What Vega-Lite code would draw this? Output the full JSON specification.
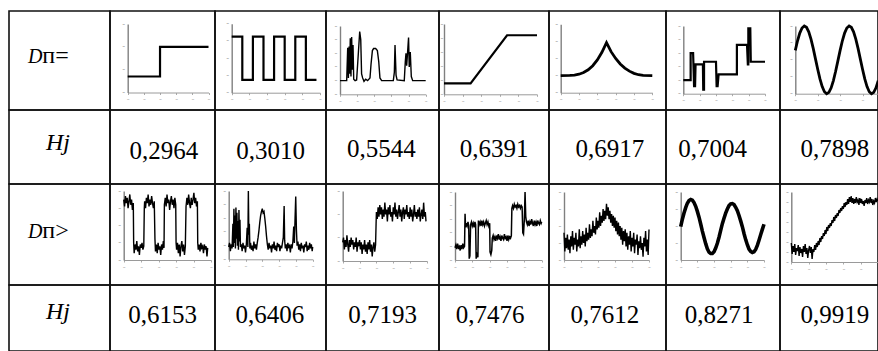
{
"$schema": "https://vega.github.io/schema/vega-lite/v6.json",
"padding": {"left": 8, "top": 10, "right": 0, "bottom": 0},
"background": "white",
"spacing": 0,
"bounds": "flush",
"columns": 8,
"config": {
  "font": "Liberation Serif",
  "view": {"stroke": "#111", "strokeWidth": 1.6},
  "concat": {"spacing": 0},
  "text": {"font": "Liberation Serif"},
  "axisX": {"grid": false, "domainColor": "#9a9a9a", "domainWidth": 1, "tickColor": "#aaa", "tickSize": 2, "labelExpr": "'-'", "labelFont": "DejaVu Sans", "labelFontSize": 8, "labelColor": "#bbb", "labelPadding": 1, "labelAngle": 0, "labelFlush": false, "labelOverlap": false, "labelBaseline": "top"},
  "axisY": {"grid": false, "domainColor": "#808080", "domainWidth": 1.4, "ticks": false, "labelExpr": "'-'", "labelFont": "DejaVu Sans", "labelFontSize": 8, "labelColor": "#aaa", "labelPadding": 3, "labelFlush": false, "labelOverlap": false}
},
"datasets": {
  "r1a": [{"x":0,"y":0.7},{"x":2,"y":0.7},{"x":2.001,"y":2},{"x":5,"y":2}],
  "r1b": [{"x":0,"y":3.25},{"x":0.6,"y":3.25},{"x":0.601,"y":0.74},{"x":1.2,"y":0.74},{"x":1.201,"y":3.25},{"x":1.8,"y":3.25},{"x":1.801,"y":0.74},{"x":2.4,"y":0.74},{"x":2.401,"y":3.25},{"x":3.0,"y":3.25},{"x":3.001,"y":0.74},{"x":3.6,"y":0.74},{"x":3.601,"y":3.25},{"x":4.2,"y":3.25},{"x":4.201,"y":0.74},{"x":4.8,"y":0.74}],
  "r1c": [{"x":0,"y":1},{"x":0.39,"y":1},{"x":0.45,"y":3.4},{"x":0.49,"y":1.2},{"x":0.53,"y":3.5},{"x":0.56,"y":1.5},{"x":0.6,"y":4.1},{"x":0.64,"y":1.3},{"x":0.68,"y":4.2},{"x":0.72,"y":1.8},{"x":0.76,"y":3.6},{"x":0.8,"y":1.1},{"x":0.88,"y":1},{"x":0.97,"y":1.05},{"x":1.07,"y":3.0},{"x":1.15,"y":4.6},{"x":1.21,"y":4.0},{"x":1.26,"y":1.5},{"x":1.32,"y":1.2},{"x":1.4,"y":0.95},{"x":1.5,"y":1.1},{"x":1.61,"y":1},{"x":1.75,"y":1.2},{"x":1.81,"y":2.2},{"x":1.89,"y":3.2},{"x":1.96,"y":3.35},{"x":2.08,"y":3.35},{"x":2.18,"y":3.2},{"x":2.26,"y":2.4},{"x":2.33,"y":1.2},{"x":2.43,"y":1},{"x":3.11,"y":1},{"x":3.17,"y":1.6},{"x":3.21,"y":3.6},{"x":3.27,"y":1.4},{"x":3.33,"y":1.05},{"x":3.75,"y":1},{"x":3.81,"y":2.4},{"x":3.85,"y":3.0},{"x":3.89,"y":2.1},{"x":3.95,"y":3.2},{"x":4.0,"y":4.15},{"x":4.04,"y":2.0},{"x":4.1,"y":3.1},{"x":4.16,"y":1.3},{"x":4.24,"y":1},{"x":5,"y":1}],
  "r1d": [{"x":0,"y":0.78},{"x":1.43,"y":0.78},{"x":3.39,"y":4.2},{"x":5,"y":4.2}],
  "r1e": [{"x":0,"y":1.0},{"x":0.5,"y":1.01},{"x":0.75,"y":1.03},{"x":1.0,"y":1.08},{"x":1.25,"y":1.18},{"x":1.5,"y":1.34},{"x":1.75,"y":1.58},{"x":2.0,"y":1.92},{"x":2.25,"y":2.36},{"x":2.5,"y":2.93},{"x":2.75,"y":2.4},{"x":3.0,"y":2.0},{"x":3.25,"y":1.68},{"x":3.5,"y":1.44},{"x":3.75,"y":1.26},{"x":4.0,"y":1.13},{"x":4.25,"y":1.05},{"x":4.5,"y":1.01},{"x":5.0,"y":1.0}],
  "r1f": [{"x":0,"y":1.0},{"x":0.449,"y":1.0},{"x":0.45,"y":3.0},{"x":0.6,"y":3.0},{"x":0.66,"y":0.55},{"x":0.72,"y":0.55},{"x":0.75,"y":2.17},{"x":1.2,"y":2.17},{"x":1.22,"y":0.3},{"x":1.269,"y":0.3},{"x":1.27,"y":2.36},{"x":2.0,"y":2.36},{"x":2.04,"y":0.55},{"x":2.1,"y":0.55},{"x":2.16,"y":1.43},{"x":3.279,"y":1.43},{"x":3.28,"y":3.6},{"x":3.9,"y":3.6},{"x":3.95,"y":2.17},{"x":3.979,"y":2.17},{"x":3.98,"y":4.83},{"x":4.1,"y":4.83},{"x":4.13,"y":2.36},{"x":5.0,"y":2.36}],
  "r1g": [{"x":0,"y":0.28},{"x":0.1,"y":0.563},{"x":0.2,"y":0.791},{"x":0.3,"y":0.941},{"x":0.4,"y":1.0},{"x":0.5,"y":0.96},{"x":0.6,"y":0.827},{"x":0.7,"y":0.612},{"x":0.8,"y":0.338},{"x":0.9,"y":0.03},{"x":1.0,"y":-0.28},{"x":1.1,"y":-0.563},{"x":1.2,"y":-0.791},{"x":1.3,"y":-0.941},{"x":1.4,"y":-1.0},{"x":1.5,"y":-0.96},{"x":1.6,"y":-0.827},{"x":1.7,"y":-0.612},{"x":1.8,"y":-0.338},{"x":1.9,"y":-0.03},{"x":2.0,"y":0.28},{"x":2.1,"y":0.563},{"x":2.2,"y":0.791},{"x":2.3,"y":0.941},{"x":2.4,"y":1.0},{"x":2.5,"y":0.96},{"x":2.6,"y":0.827},{"x":2.7,"y":0.612},{"x":2.8,"y":0.338},{"x":2.9,"y":0.03},{"x":3.0,"y":-0.28},{"x":3.1,"y":-0.563},{"x":3.2,"y":-0.791},{"x":3.3,"y":-0.941},{"x":3.4,"y":-1.0},{"x":3.5,"y":-0.96},{"x":3.6,"y":-0.827},{"x":3.7,"y":-0.612}],
  "r3a": [{"x":0,"y":3.5},{"x":0.05,"y":3.1},{"x":0.1,"y":3.7},{"x":0.15,"y":3.3},{"x":0.2,"y":3.6},{"x":0.25,"y":3.0},{"x":0.3,"y":3.4},{"x":0.35,"y":3.8},{"x":0.4,"y":3.2},{"x":0.45,"y":3.5},{"x":0.5,"y":2.9},{"x":0.55,"y":3.3},{"x":0.57,"y":1.0},{"x":0.6,"y":0.4},{"x":0.65,"y":0.9},{"x":0.7,"y":0.6},{"x":0.75,"y":1.1},{"x":0.8,"y":0.5},{"x":0.85,"y":0.8},{"x":0.9,"y":0.3},{"x":0.95,"y":0.9},{"x":1.0,"y":0.7},{"x":1.05,"y":1.0},{"x":1.1,"y":0.6},{"x":1.15,"y":0.8},{"x":1.18,"y":3.0},{"x":1.2,"y":3.4},{"x":1.25,"y":3.0},{"x":1.3,"y":3.6},{"x":1.35,"y":3.3},{"x":1.4,"y":3.8},{"x":1.45,"y":3.1},{"x":1.5,"y":3.5},{"x":1.55,"y":3.2},{"x":1.6,"y":3.7},{"x":1.65,"y":3.3},{"x":1.7,"y":3.0},{"x":1.75,"y":3.4},{"x":1.79,"y":1.2},{"x":1.82,"y":0.5},{"x":1.87,"y":0.9},{"x":1.92,"y":0.4},{"x":1.97,"y":1.0},{"x":2.02,"y":0.6},{"x":2.07,"y":0.8},{"x":2.12,"y":0.3},{"x":2.17,"y":0.9},{"x":2.22,"y":0.6},{"x":2.27,"y":1.1},{"x":2.31,"y":0.7},{"x":2.33,"y":3.2},{"x":2.38,"y":3.6},{"x":2.43,"y":3.1},{"x":2.48,"y":3.8},{"x":2.53,"y":3.3},{"x":2.58,"y":3.5},{"x":2.63,"y":2.9},{"x":2.68,"y":3.4},{"x":2.73,"y":3.7},{"x":2.78,"y":3.2},{"x":2.83,"y":3.5},{"x":2.88,"y":3.0},{"x":2.93,"y":3.6},{"x":2.98,"y":3.2},{"x":3.0,"y":1.0},{"x":3.03,"y":0.6},{"x":3.08,"y":1.0},{"x":3.13,"y":0.4},{"x":3.18,"y":0.9},{"x":3.23,"y":0.2},{"x":3.28,"y":0.8},{"x":3.33,"y":1.1},{"x":3.38,"y":0.5},{"x":3.43,"y":0.9},{"x":3.48,"y":0.3},{"x":3.53,"y":0.8},{"x":3.57,"y":3.1},{"x":3.62,"y":3.6},{"x":3.67,"y":3.2},{"x":3.72,"y":3.8},{"x":3.77,"y":3.3},{"x":3.82,"y":3.0},{"x":3.87,"y":3.6},{"x":3.92,"y":3.2},{"x":3.97,"y":3.5},{"x":4.02,"y":3.9},{"x":4.07,"y":3.3},{"x":4.12,"y":3.6},{"x":4.17,"y":3.1},{"x":4.22,"y":3.4},{"x":4.24,"y":1.0},{"x":4.27,"y":0.6},{"x":4.32,"y":0.9},{"x":4.37,"y":0.5},{"x":4.42,"y":1.0},{"x":4.47,"y":0.7},{"x":4.52,"y":0.8},{"x":4.57,"y":0.4},{"x":4.62,"y":0.9},{"x":4.67,"y":0.6},{"x":4.72,"y":0.8},{"x":4.77,"y":0.2},{"x":4.81,"y":0.7}],
  "r3b": [{"x":0,"y":0.9},{"x":0.05,"y":1.2},{"x":0.1,"y":0.6},{"x":0.15,"y":1.1},{"x":0.2,"y":0.8},{"x":0.25,"y":2.6},{"x":0.28,"y":0.9},{"x":0.31,"y":3.7},{"x":0.34,"y":1.2},{"x":0.37,"y":3.2},{"x":0.4,"y":0.8},{"x":0.43,"y":3.8},{"x":0.46,"y":1.5},{"x":0.49,"y":3.4},{"x":0.52,"y":1.0},{"x":0.55,"y":2.8},{"x":0.58,"y":0.7},{"x":0.61,"y":3.6},{"x":0.64,"y":1.3},{"x":0.67,"y":2.9},{"x":0.7,"y":0.9},{"x":0.75,"y":1.1},{"x":0.8,"y":0.6},{"x":0.85,"y":1.2},{"x":0.9,"y":0.8},{"x":0.95,"y":1.0},{"x":1.0,"y":0.5},{"x":1.05,"y":1.1},{"x":1.1,"y":2.3},{"x":1.14,"y":0.9},{"x":1.17,"y":5.0},{"x":1.2,"y":1.8},{"x":1.23,"y":2.6},{"x":1.26,"y":0.8},{"x":1.3,"y":1.2},{"x":1.35,"y":0.7},{"x":1.4,"y":1.0},{"x":1.45,"y":0.6},{"x":1.5,"y":1.3},{"x":1.55,"y":0.8},{"x":1.6,"y":1.1},{"x":1.65,"y":0.7},{"x":1.7,"y":1.2},{"x":1.75,"y":1.6},{"x":1.8,"y":2.1},{"x":1.85,"y":2.7},{"x":1.9,"y":3.2},{"x":1.95,"y":3.5},{"x":2.0,"y":3.7},{"x":2.05,"y":3.4},{"x":2.1,"y":3.5},{"x":2.15,"y":3.0},{"x":2.2,"y":2.4},{"x":2.25,"y":1.7},{"x":2.3,"y":1.1},{"x":2.35,"y":0.7},{"x":2.4,"y":1.2},{"x":2.45,"y":0.8},{"x":2.5,"y":1.0},{"x":2.55,"y":0.5},{"x":2.6,"y":1.1},{"x":2.65,"y":0.8},{"x":2.7,"y":1.3},{"x":2.75,"y":0.7},{"x":2.8,"y":1.0},{"x":2.85,"y":0.6},{"x":2.9,"y":1.2},{"x":2.95,"y":0.9},{"x":3.0,"y":1.1},{"x":3.05,"y":0.6},{"x":3.1,"y":1.0},{"x":3.15,"y":0.8},{"x":3.2,"y":1.2},{"x":3.25,"y":1.6},{"x":3.3,"y":3.9},{"x":3.33,"y":1.4},{"x":3.37,"y":0.8},{"x":3.42,"y":1.1},{"x":3.47,"y":0.6},{"x":3.52,"y":1.2},{"x":3.57,"y":0.9},{"x":3.62,"y":1.0},{"x":3.67,"y":0.5},{"x":3.72,"y":1.1},{"x":3.77,"y":0.8},{"x":3.82,"y":1.3},{"x":3.87,"y":2.4},{"x":3.91,"y":1.2},{"x":3.95,"y":3.0},{"x":3.99,"y":4.6},{"x":4.03,"y":2.2},{"x":4.07,"y":1.0},{"x":4.12,"y":1.3},{"x":4.17,"y":0.7},{"x":4.22,"y":1.1},{"x":4.27,"y":0.6},{"x":4.32,"y":1.2},{"x":4.37,"y":0.8},{"x":4.42,"y":1.0},{"x":4.47,"y":0.5},{"x":4.52,"y":1.1},{"x":4.57,"y":0.9},{"x":4.62,"y":1.3},{"x":4.67,"y":0.6},{"x":4.72,"y":1.0},{"x":4.77,"y":0.7},{"x":4.82,"y":1.2},{"x":4.87,"y":0.8},{"x":4.92,"y":1.1},{"x":4.97,"y":0.6},{"x":5.0,"y":0.9}],
  "r3c": [{"x":0,"y":0.8},{"x":0.05,"y":1.0},{"x":0.1,"y":0.5},{"x":0.15,"y":0.9},{"x":0.2,"y":0.6},{"x":0.25,"y":1.1},{"x":0.3,"y":0.7},{"x":0.35,"y":0.4},{"x":0.4,"y":0.9},{"x":0.45,"y":0.6},{"x":0.5,"y":1.0},{"x":0.55,"y":0.7},{"x":0.6,"y":0.9},{"x":0.65,"y":0.5},{"x":0.7,"y":0.8},{"x":0.75,"y":0.6},{"x":0.8,"y":1.0},{"x":0.85,"y":0.4},{"x":0.9,"y":0.8},{"x":0.95,"y":0.7},{"x":1.0,"y":0.9},{"x":1.05,"y":0.5},{"x":1.1,"y":0.8},{"x":1.15,"y":0.3},{"x":1.2,"y":0.7},{"x":1.25,"y":0.5},{"x":1.3,"y":0.9},{"x":1.35,"y":0.4},{"x":1.4,"y":0.7},{"x":1.45,"y":0.3},{"x":1.5,"y":0.8},{"x":1.55,"y":0.5},{"x":1.6,"y":0.9},{"x":1.65,"y":0.4},{"x":1.7,"y":0.7},{"x":1.75,"y":0.2},{"x":1.8,"y":0.6},{"x":1.85,"y":0.8},{"x":1.9,"y":0.4},{"x":1.95,"y":0.7},{"x":1.98,"y":1.6},{"x":2.0,"y":2.1},{"x":2.05,"y":1.8},{"x":2.1,"y":2.3},{"x":2.15,"y":1.9},{"x":2.2,"y":2.4},{"x":2.25,"y":2.0},{"x":2.3,"y":2.3},{"x":2.35,"y":1.8},{"x":2.4,"y":2.2},{"x":2.45,"y":1.9},{"x":2.5,"y":2.5},{"x":2.55,"y":2.0},{"x":2.6,"y":2.2},{"x":2.65,"y":1.7},{"x":2.7,"y":2.3},{"x":2.75,"y":2.0},{"x":2.8,"y":2.4},{"x":2.85,"y":1.9},{"x":2.9,"y":2.1},{"x":2.95,"y":1.7},{"x":3.0,"y":2.3},{"x":3.05,"y":2.0},{"x":3.1,"y":2.5},{"x":3.15,"y":1.9},{"x":3.2,"y":2.2},{"x":3.25,"y":1.8},{"x":3.3,"y":2.1},{"x":3.35,"y":2.4},{"x":3.4,"y":1.9},{"x":3.45,"y":2.2},{"x":3.5,"y":1.7},{"x":3.55,"y":2.1},{"x":3.6,"y":2.3},{"x":3.65,"y":1.8},{"x":3.7,"y":2.2},{"x":3.75,"y":2.0},{"x":3.8,"y":2.4},{"x":3.85,"y":1.9},{"x":3.9,"y":2.1},{"x":3.95,"y":1.8},{"x":4.0,"y":2.3},{"x":4.05,"y":1.9},{"x":4.1,"y":2.2},{"x":4.15,"y":1.7},{"x":4.2,"y":2.0},{"x":4.25,"y":2.4},{"x":4.3,"y":1.9},{"x":4.35,"y":2.1},{"x":4.4,"y":1.8},{"x":4.45,"y":2.2},{"x":4.5,"y":1.9},{"x":4.55,"y":2.3},{"x":4.6,"y":1.7},{"x":4.65,"y":2.0},{"x":4.7,"y":2.2},{"x":4.75,"y":1.8},{"x":4.8,"y":2.5},{"x":4.85,"y":1.9},{"x":4.9,"y":2.1},{"x":4.94,"y":1.7}],
  "r3d": [{"x":0,"y":0.9},{"x":0.05,"y":1.1},{"x":0.1,"y":0.8},{"x":0.15,"y":1.2},{"x":0.2,"y":0.9},{"x":0.25,"y":1.0},{"x":0.3,"y":0.7},{"x":0.35,"y":1.1},{"x":0.4,"y":0.8},{"x":0.45,"y":1.2},{"x":0.5,"y":0.9},{"x":0.55,"y":1.0},{"x":0.58,"y":3.4},{"x":0.61,"y":2.4},{"x":0.65,"y":2.7},{"x":0.7,"y":2.5},{"x":0.75,"y":2.8},{"x":0.79,"y":2.5},{"x":0.82,"y":0.1},{"x":0.86,"y":0.3},{"x":0.9,"y":2.6},{"x":0.95,"y":2.8},{"x":1.0,"y":2.5},{"x":1.05,"y":2.7},{"x":1.1,"y":2.4},{"x":1.15,"y":2.8},{"x":1.19,"y":2.6},{"x":1.22,"y":0.1},{"x":1.27,"y":0.4},{"x":1.32,"y":0.2},{"x":1.35,"y":2.9},{"x":1.4,"y":2.6},{"x":1.45,"y":2.8},{"x":1.5,"y":2.5},{"x":1.55,"y":2.9},{"x":1.6,"y":2.6},{"x":1.65,"y":2.8},{"x":1.7,"y":2.5},{"x":1.75,"y":2.7},{"x":1.8,"y":2.9},{"x":1.85,"y":2.6},{"x":1.9,"y":2.8},{"x":1.95,"y":2.5},{"x":2.0,"y":2.7},{"x":2.02,"y":0.6},{"x":2.07,"y":0.4},{"x":2.12,"y":0.7},{"x":2.15,"y":1.6},{"x":2.2,"y":1.8},{"x":2.25,"y":1.5},{"x":2.3,"y":1.7},{"x":2.35,"y":1.4},{"x":2.4,"y":1.8},{"x":2.45,"y":1.6},{"x":2.5,"y":1.9},{"x":2.55,"y":1.5},{"x":2.6,"y":1.7},{"x":2.65,"y":1.4},{"x":2.7,"y":1.8},{"x":2.75,"y":1.6},{"x":2.8,"y":1.5},{"x":2.85,"y":1.9},{"x":2.9,"y":1.6},{"x":2.95,"y":1.7},{"x":3.0,"y":1.4},{"x":3.05,"y":1.8},{"x":3.1,"y":1.5},{"x":3.15,"y":1.7},{"x":3.2,"y":1.6},{"x":3.25,"y":1.8},{"x":3.28,"y":3.8},{"x":3.32,"y":4.0},{"x":3.37,"y":3.8},{"x":3.42,"y":4.1},{"x":3.47,"y":3.9},{"x":3.52,"y":4.0},{"x":3.57,"y":3.8},{"x":3.62,"y":4.1},{"x":3.67,"y":3.9},{"x":3.72,"y":4.0},{"x":3.77,"y":3.8},{"x":3.82,"y":4.0},{"x":3.87,"y":3.9},{"x":3.91,"y":2.0},{"x":3.95,"y":1.9},{"x":4.0,"y":3.0},{"x":4.04,"y":5.0},{"x":4.08,"y":3.2},{"x":4.12,"y":2.8},{"x":4.17,"y":2.6},{"x":4.22,"y":2.9},{"x":4.27,"y":2.5},{"x":4.32,"y":2.8},{"x":4.37,"y":2.6},{"x":4.42,"y":3.0},{"x":4.47,"y":2.7},{"x":4.52,"y":2.5},{"x":4.57,"y":2.9},{"x":4.62,"y":2.6},{"x":4.67,"y":2.8},{"x":4.72,"y":2.5},{"x":4.77,"y":2.9},{"x":4.82,"y":2.7},{"x":4.87,"y":2.6},{"x":4.92,"y":2.9},{"x":4.97,"y":2.7},{"x":5.0,"y":2.8}],
  "r3e": [{"x":0,"y":1.6},{"x":0.05,"y":0.5},{"x":0.1,"y":1.3},{"x":0.15,"y":0.7},{"x":0.2,"y":1.5},{"x":0.25,"y":0.6},{"x":0.3,"y":1.2},{"x":0.35,"y":0.4},{"x":0.4,"y":1.4},{"x":0.45,"y":0.8},{"x":0.5,"y":1.7},{"x":0.55,"y":0.6},{"x":0.6,"y":1.3},{"x":0.65,"y":0.9},{"x":0.7,"y":1.6},{"x":0.75,"y":0.5},{"x":0.8,"y":1.2},{"x":0.85,"y":0.8},{"x":0.9,"y":1.8},{"x":0.95,"y":0.7},{"x":1.0,"y":1.4},{"x":1.05,"y":0.9},{"x":1.1,"y":1.7},{"x":1.15,"y":1.0},{"x":1.2,"y":1.5},{"x":1.25,"y":0.8},{"x":1.3,"y":1.9},{"x":1.35,"y":1.1},{"x":1.4,"y":1.6},{"x":1.45,"y":1.2},{"x":1.5,"y":2.1},{"x":1.55,"y":1.3},{"x":1.6,"y":1.8},{"x":1.65,"y":1.4},{"x":1.7,"y":2.3},{"x":1.75,"y":1.6},{"x":1.8,"y":2.0},{"x":1.85,"y":1.5},{"x":1.9,"y":2.5},{"x":1.95,"y":1.8},{"x":2.0,"y":2.3},{"x":2.05,"y":1.9},{"x":2.1,"y":2.8},{"x":2.15,"y":2.0},{"x":2.2,"y":2.6},{"x":2.25,"y":2.2},{"x":2.3,"y":3.0},{"x":2.35,"y":2.3},{"x":2.4,"y":2.9},{"x":2.45,"y":2.4},{"x":2.5,"y":3.3},{"x":2.55,"y":2.6},{"x":2.6,"y":3.1},{"x":2.65,"y":2.4},{"x":2.7,"y":2.9},{"x":2.75,"y":2.2},{"x":2.8,"y":2.7},{"x":2.85,"y":2.0},{"x":2.9,"y":2.6},{"x":2.95,"y":1.9},{"x":3.0,"y":2.5},{"x":3.05,"y":1.7},{"x":3.1,"y":2.3},{"x":3.15,"y":1.5},{"x":3.2,"y":2.2},{"x":3.25,"y":1.4},{"x":3.3,"y":2.0},{"x":3.35,"y":1.2},{"x":3.4,"y":1.9},{"x":3.45,"y":0.9},{"x":3.5,"y":1.7},{"x":3.55,"y":1.1},{"x":3.6,"y":1.8},{"x":3.65,"y":0.8},{"x":3.7,"y":1.6},{"x":3.75,"y":0.6},{"x":3.8,"y":1.4},{"x":3.85,"y":0.9},{"x":3.9,"y":1.7},{"x":3.95,"y":0.5},{"x":4.0,"y":1.3},{"x":4.05,"y":0.8},{"x":4.1,"y":1.6},{"x":4.15,"y":0.4},{"x":4.2,"y":1.2},{"x":4.25,"y":0.9},{"x":4.3,"y":1.5},{"x":4.35,"y":0.3},{"x":4.4,"y":1.1},{"x":4.45,"y":0.7},{"x":4.5,"y":1.4},{"x":4.55,"y":0.6},{"x":4.6,"y":1.0},{"x":4.65,"y":0.2},{"x":4.7,"y":1.3},{"x":4.75,"y":0.8},{"x":4.8,"y":1.7},{"x":4.85,"y":0.5},{"x":4.9,"y":1.2},{"x":4.95,"y":0.3},{"x":5.0,"y":1.8}],
  "r3f": [{"x":0,"y":-0.02},{"x":0.1,"y":0.2},{"x":0.2,"y":0.38},{"x":0.3,"y":0.54},{"x":0.4,"y":0.67},{"x":0.5,"y":0.75},{"x":0.6,"y":0.78},{"x":0.7,"y":0.76},{"x":0.8,"y":0.69},{"x":0.9,"y":0.58},{"x":1.0,"y":0.43},{"x":1.1,"y":0.26},{"x":1.2,"y":0.06},{"x":1.3,"y":-0.15},{"x":1.4,"y":-0.34},{"x":1.5,"y":-0.52},{"x":1.6,"y":-0.67},{"x":1.7,"y":-0.77},{"x":1.8,"y":-0.81},{"x":1.9,"y":-0.81},{"x":2.0,"y":-0.76},{"x":2.1,"y":-0.65},{"x":2.2,"y":-0.51},{"x":2.3,"y":-0.33},{"x":2.4,"y":-0.13},{"x":2.5,"y":0.07},{"x":2.6,"y":0.23},{"x":2.7,"y":0.38},{"x":2.8,"y":0.5},{"x":2.9,"y":0.6},{"x":3.0,"y":0.65},{"x":3.1,"y":0.66},{"x":3.2,"y":0.63},{"x":3.3,"y":0.55},{"x":3.4,"y":0.45},{"x":3.5,"y":0.31},{"x":3.6,"y":0.15},{"x":3.7,"y":-0.02},{"x":3.8,"y":-0.22},{"x":3.9,"y":-0.4},{"x":4.0,"y":-0.55},{"x":4.1,"y":-0.68},{"x":4.2,"y":-0.75},{"x":4.3,"y":-0.78},{"x":4.4,"y":-0.76},{"x":4.5,"y":-0.69},{"x":4.6,"y":-0.57},{"x":4.7,"y":-0.42},{"x":4.8,"y":-0.26},{"x":4.9,"y":-0.1},{"x":5.0,"y":0.05}],
  "r3g": [{"x":0,"y":1.9},{"x":0.05,"y":0.8},{"x":0.1,"y":1.6},{"x":0.15,"y":1.0},{"x":0.2,"y":1.8},{"x":0.25,"y":0.7},{"x":0.3,"y":1.4},{"x":0.35,"y":1.1},{"x":0.4,"y":1.7},{"x":0.45,"y":0.6},{"x":0.5,"y":1.5},{"x":0.55,"y":0.9},{"x":0.6,"y":1.3},{"x":0.65,"y":0.5},{"x":0.7,"y":1.6},{"x":0.75,"y":1.0},{"x":0.8,"y":1.8},{"x":0.85,"y":0.8},{"x":0.9,"y":1.4},{"x":0.95,"y":0.4},{"x":1.0,"y":1.2},{"x":1.05,"y":1.6},{"x":1.1,"y":0.9},{"x":1.15,"y":1.5},{"x":1.2,"y":0.3},{"x":1.25,"y":1.3},{"x":1.3,"y":1.0},{"x":1.35,"y":1.7},{"x":1.4,"y":1.2},{"x":1.45,"y":1.9},{"x":1.5,"y":1.5},{"x":1.55,"y":2.1},{"x":1.6,"y":1.7},{"x":1.65,"y":2.4},{"x":1.7,"y":2.0},{"x":1.75,"y":2.6},{"x":1.8,"y":2.3},{"x":1.85,"y":2.9},{"x":1.9,"y":2.6},{"x":1.95,"y":3.2},{"x":2.0,"y":2.8},{"x":2.05,"y":3.5},{"x":2.1,"y":3.1},{"x":2.15,"y":3.7},{"x":2.2,"y":3.4},{"x":2.25,"y":3.9},{"x":2.3,"y":3.6},{"x":2.35,"y":4.2},{"x":2.4,"y":3.9},{"x":2.45,"y":4.5},{"x":2.5,"y":4.1},{"x":2.55,"y":4.7},{"x":2.6,"y":4.4},{"x":2.65,"y":4.9},{"x":2.7,"y":4.6},{"x":2.75,"y":5.2},{"x":2.8,"y":4.9},{"x":2.85,"y":5.4},{"x":2.9,"y":5.1},{"x":2.95,"y":5.6},{"x":3.0,"y":5.3},{"x":3.05,"y":5.9},{"x":3.1,"y":5.5},{"x":3.15,"y":6.0},{"x":3.2,"y":5.7},{"x":3.25,"y":6.3},{"x":3.3,"y":5.8},{"x":3.35,"y":6.5},{"x":3.4,"y":6.0},{"x":3.45,"y":6.6},{"x":3.5,"y":5.9},{"x":3.55,"y":6.4},{"x":3.6,"y":5.8},{"x":3.65,"y":6.3},{"x":3.7,"y":5.9},{"x":3.75,"y":6.5},{"x":3.8,"y":6.0},{"x":3.85,"y":6.2},{"x":3.9,"y":5.7},{"x":3.95,"y":6.4},{"x":4.0,"y":5.9},{"x":4.05,"y":6.3},{"x":4.1,"y":5.8},{"x":4.15,"y":6.1},{"x":4.2,"y":5.6},{"x":4.25,"y":6.2},{"x":4.3,"y":5.9},{"x":4.35,"y":6.4},{"x":4.4,"y":5.8},{"x":4.45,"y":6.2},{"x":4.5,"y":6.0},{"x":4.55,"y":6.5},{"x":4.6,"y":5.9},{"x":4.65,"y":6.3},{"x":4.7,"y":5.7},{"x":4.75,"y":6.1},{"x":4.8,"y":5.9},{"x":4.85,"y":6.4},{"x":4.9,"y":6.0},{"x":4.95,"y":6.3},{"x":5.0,"y":6.1}]
},
"concat": [
  {"width":101,"height":99,"data":{"values":[{"sym":"D","rel":"п="}]},"layer":[
    {"mark":{"type":"text","font":"Liberation Serif","fontSize":20,"fontStyle":"italic","align":"right","baseline":"alphabetic"},"encoding":{"x":{"datum":0.33,"type":"quantitative","scale":{"domain":[0,1]},"axis":null},"y":{"datum":0.478,"type":"quantitative","scale":{"domain":[0,1]},"axis":null},"text":{"field":"sym"}}},
    {"mark":{"type":"text","font":"Liberation Serif","fontSize":24,"align":"left","baseline":"alphabetic"},"encoding":{"x":{"datum":0.33,"type":"quantitative","scale":{"domain":[0,1]},"axis":null},"y":{"datum":0.478,"type":"quantitative","scale":{"domain":[0,1]},"axis":null},"text":{"field":"rel"}}}
  ]},
  {"width":105,"height":99,"data":{"name":"r1a"},"mark":{"type":"line","color":"#000","strokeWidth":2.2,"clip":true},"encoding":{"x":{"field":"x","type":"quantitative","scale":{"domain":[0,5],"range":[17.7,98.5],"nice":false,"zero":false},"axis":{"values":[0,1,2,3,4,5],"offset":-17.5,"title":null}},"y":{"field":"y","type":"quantitative","scale":{"domain":[0,3],"range":[81.5,13],"nice":false,"zero":false},"axis":{"values":[0,1,2,3],"offset":-17.7,"title":null}}}},
  {"width":111,"height":99,"data":{"name":"r1b"},"mark":{"type":"line","color":"#000","strokeWidth":2.2,"clip":true},"encoding":{"x":{"field":"x","type":"quantitative","scale":{"domain":[0,5],"range":[16.7,105],"nice":false,"zero":false},"axis":{"values":[0,1,2,3,4,5],"offset":-17.3,"title":null}},"y":{"field":"y","type":"quantitative","scale":{"domain":[0,4],"range":[81.7,12.7],"nice":false,"zero":false},"axis":{"values":[0,1,2,3,4],"offset":-16.7,"title":null}}}},
  {"width":113,"height":99,"data":{"name":"r1c"},"mark":{"type":"line","color":"#000","strokeWidth":1.4,"clip":true},"encoding":{"x":{"field":"x","type":"quantitative","scale":{"domain":[0,5],"range":[14,99.7],"nice":false,"zero":false},"axis":{"values":[0,1,2,3,4,5],"offset":-15.7,"title":null}},"y":{"field":"y","type":"quantitative","scale":{"domain":[0,5],"range":[83.3,15],"nice":false,"zero":false},"axis":{"values":[0,1,2,3,4,5],"offset":-14,"title":null}}}},
  {"width":110,"height":99,"data":{"name":"r1d"},"mark":{"type":"line","color":"#000","strokeWidth":2.2,"clip":true},"encoding":{"x":{"field":"x","type":"quantitative","scale":{"domain":[0,5],"range":[5,98],"nice":false,"zero":false},"axis":{"values":[0,1,2,3,4,5],"offset":-15.7,"title":null}},"y":{"field":"y","type":"quantitative","scale":{"domain":[0,5],"range":[83.3,13],"nice":false,"zero":false},"axis":{"values":[0,1,2,3,4,5],"offset":-5,"labelPadding":1,"title":null}}}},
  {"width":117,"height":99,"data":{"name":"r1e"},"mark":{"type":"line","color":"#000","strokeWidth":2.8,"clip":true},"encoding":{"x":{"field":"x","type":"quantitative","scale":{"domain":[0,5],"range":[11.7,103.3],"nice":false,"zero":false},"axis":{"values":[0,1,2,3,4,5],"offset":-17.3,"title":null}},"y":{"field":"y","type":"quantitative","scale":{"domain":[0,4],"range":[81.7,13.3],"nice":false,"zero":false},"axis":{"values":[0,1,2,3,4],"offset":-11.7,"title":null}}}},
  {"width":114,"height":99,"data":{"name":"r1f"},"mark":{"type":"line","color":"#000","strokeWidth":2.2,"clip":true},"encoding":{"x":{"field":"x","type":"quantitative","scale":{"domain":[0,5],"range":[17.3,99],"nice":false,"zero":false},"axis":{"values":[0,1,2,3,4,5],"offset":-16.3,"title":null}},"y":{"field":"y","type":"quantitative","scale":{"domain":[0,5],"range":[82.7,15],"nice":false,"zero":false},"axis":{"values":[0,1,2,3,4,5],"offset":-17.3,"title":null}}}},
  {"width":98,"height":99,"view":{"stroke":"#111","strokeWidth":1.6,"strokeDasharray":[98,99,197,0]},"data":{"name":"r1g"},"mark":{"type":"line","color":"#000","strokeWidth":2.8,"clip":true},"encoding":{"x":{"field":"x","type":"quantitative","scale":{"domain":[0,3.69],"range":[15.3,98],"nice":false,"zero":false},"axis":{"values":[0,1,2,3],"offset":-16.3,"title":null}},"y":{"field":"y","type":"quantitative","scale":{"domain":[-1,1],"range":[82.7,15],"nice":false,"zero":false},"axis":{"values":[-1,-0.5,0,0.5,1],"offset":-15.3,"title":null}}}},

  {"width":101,"height":74,"data":{"values":[{"hj":"Hj"}]},"mark":{"type":"text","font":"Liberation Serif","fontSize":24,"fontStyle":"italic","align":"center","baseline":"alphabetic"},"encoding":{"x":{"datum":0.485,"type":"quantitative","scale":{"domain":[0,1]},"axis":null},"y":{"datum":0.455,"type":"quantitative","scale":{"domain":[0,1]},"axis":null},"text":{"field":"hj"}}},
  {"width":105,"height":74,"data":{"values":[{"hj":"0,2964"}]},"mark":{"type":"text","font":"Liberation Serif","fontSize":25,"align":"center","baseline":"alphabetic"},"encoding":{"x":{"datum":0.514,"type":"quantitative","scale":{"domain":[0,1]},"axis":null},"y":{"datum":0.338,"type":"quantitative","scale":{"domain":[0,1]},"axis":null},"text":{"field":"hj"}}},
  {"width":111,"height":74,"data":{"values":[{"hj":"0,3010"}]},"mark":{"type":"text","font":"Liberation Serif","fontSize":25,"align":"center","baseline":"alphabetic"},"encoding":{"x":{"datum":0.5,"type":"quantitative","scale":{"domain":[0,1]},"axis":null},"y":{"datum":0.338,"type":"quantitative","scale":{"domain":[0,1]},"axis":null},"text":{"field":"hj"}}},
  {"width":113,"height":74,"data":{"values":[{"hj":"0,5544"}]},"mark":{"type":"text","font":"Liberation Serif","fontSize":25,"align":"center","baseline":"alphabetic"},"encoding":{"x":{"datum":0.49,"type":"quantitative","scale":{"domain":[0,1]},"axis":null},"y":{"datum":0.37,"type":"quantitative","scale":{"domain":[0,1]},"axis":null},"text":{"field":"hj"}}},
  {"width":110,"height":74,"data":{"values":[{"hj":"0,6391"}]},"mark":{"type":"text","font":"Liberation Serif","fontSize":25,"align":"center","baseline":"alphabetic"},"encoding":{"x":{"datum":0.5,"type":"quantitative","scale":{"domain":[0,1]},"axis":null},"y":{"datum":0.36,"type":"quantitative","scale":{"domain":[0,1]},"axis":null},"text":{"field":"hj"}}},
  {"width":117,"height":74,"data":{"values":[{"hj":"0,6917"}]},"mark":{"type":"text","font":"Liberation Serif","fontSize":25,"align":"center","baseline":"alphabetic"},"encoding":{"x":{"datum":0.52,"type":"quantitative","scale":{"domain":[0,1]},"axis":null},"y":{"datum":0.36,"type":"quantitative","scale":{"domain":[0,1]},"axis":null},"text":{"field":"hj"}}},
  {"width":114,"height":74,"data":{"values":[{"hj":"0,7004"}]},"mark":{"type":"text","font":"Liberation Serif","fontSize":25,"align":"center","baseline":"alphabetic"},"encoding":{"x":{"datum":0.41,"type":"quantitative","scale":{"domain":[0,1]},"axis":null},"y":{"datum":0.36,"type":"quantitative","scale":{"domain":[0,1]},"axis":null},"text":{"field":"hj"}}},
  {"width":98,"height":74,"view":{"stroke":"#111","strokeWidth":1.6,"strokeDasharray":[98,74,172,0]},"data":{"values":[{"hj":"0,7898"}]},"mark":{"type":"text","font":"Liberation Serif","fontSize":25,"align":"center","baseline":"alphabetic"},"encoding":{"x":{"datum":0.56,"type":"quantitative","scale":{"domain":[0,1]},"axis":null},"y":{"datum":0.36,"type":"quantitative","scale":{"domain":[0,1]},"axis":null},"text":{"field":"hj"}}},

  {"width":101,"height":101,"data":{"values":[{"sym":"D","rel":"п>"}]},"layer":[
    {"mark":{"type":"text","font":"Liberation Serif","fontSize":20,"fontStyle":"italic","align":"right","baseline":"alphabetic"},"encoding":{"x":{"datum":0.33,"type":"quantitative","scale":{"domain":[0,1]},"axis":null},"y":{"datum":0.468,"type":"quantitative","scale":{"domain":[0,1]},"axis":null},"text":{"field":"sym"}}},
    {"mark":{"type":"text","font":"Liberation Serif","fontSize":24,"align":"left","baseline":"alphabetic"},"encoding":{"x":{"datum":0.33,"type":"quantitative","scale":{"domain":[0,1]},"axis":null},"y":{"datum":0.468,"type":"quantitative","scale":{"domain":[0,1]},"axis":null},"text":{"field":"rel"}}}
  ]},
  {"width":105,"height":101,"data":{"name":"r3a"},"mark":{"type":"line","color":"#000","strokeWidth":1.4,"clip":true},"encoding":{"x":{"field":"x","type":"quantitative","scale":{"domain":[0,5],"range":[13.7,101],"nice":false,"zero":false},"axis":{"values":[0,1,2,3,4,5],"offset":-25,"title":null}},"y":{"field":"y","type":"quantitative","scale":{"domain":[0,4],"range":[76,7],"nice":false,"zero":false},"axis":{"values":[0,1,2,3,4],"offset":-13.7,"title":null}}}},
  {"width":111,"height":101,"data":{"name":"r3b"},"mark":{"type":"line","color":"#000","strokeWidth":1.4,"clip":true},"encoding":{"x":{"field":"x","type":"quantitative","scale":{"domain":[0,5],"range":[13.7,97.7],"nice":false,"zero":false},"axis":{"values":[0,1,2,3,4,5],"offset":-25.7,"title":null}},"y":{"field":"y","type":"quantitative","scale":{"domain":[0,5],"range":[75.3,7],"nice":false,"zero":false},"axis":{"values":[0,1,2,3,4,5],"offset":-13.7,"title":null}}}},
  {"width":113,"height":101,"data":{"name":"r3c"},"mark":{"type":"line","color":"#000","strokeWidth":1.4,"clip":true},"encoding":{"x":{"field":"x","type":"quantitative","scale":{"domain":[0,5],"range":[16.7,101],"nice":false,"zero":false},"axis":{"values":[0,1,2,3,4,5],"offset":-24,"title":null}},"y":{"field":"y","type":"quantitative","scale":{"domain":[0,3],"range":[77,7],"nice":false,"zero":false},"axis":{"values":[0,1,2,3],"offset":-16.7,"title":null}}}},
  {"width":110,"height":101,"data":{"name":"r3d"},"mark":{"type":"line","color":"#000","strokeWidth":1.5,"clip":true},"encoding":{"x":{"field":"x","type":"quantitative","scale":{"domain":[0,5],"range":[16,102.7],"nice":false,"zero":false},"axis":{"values":[0,1,2,3,4,5],"offset":-25,"title":null}},"y":{"field":"y","type":"quantitative","scale":{"domain":[0,5],"range":[76,8],"nice":false,"zero":false},"axis":{"values":[0,1,2,3,4,5],"offset":-16,"title":null}}}},
  {"width":117,"height":101,"data":{"name":"r3e"},"mark":{"type":"line","color":"#000","strokeWidth":1.4,"clip":true},"encoding":{"x":{"field":"x","type":"quantitative","scale":{"domain":[0,5],"range":[15,100],"nice":false,"zero":false},"axis":{"values":[0,1,2,3,4,5],"offset":-25,"title":null}},"y":{"field":"y","type":"quantitative","scale":{"domain":[0,4],"range":[76,8],"nice":false,"zero":false},"axis":{"values":[0,1,2,3,4],"offset":-15,"title":null}}}},
  {"width":114,"height":101,"data":{"name":"r3f"},"mark":{"type":"line","color":"#000","strokeWidth":3.6,"clip":true},"encoding":{"x":{"field":"x","type":"quantitative","scale":{"domain":[0,5],"range":[14.7,98],"nice":false,"zero":false},"axis":{"values":[0,1,2,3,4,5],"offset":-25,"title":null}},"y":{"field":"y","type":"quantitative","scale":{"domain":[-1,1],"range":[76,8],"nice":false,"zero":false},"axis":{"values":[-1,-0.5,0,0.5,1],"offset":-14.7,"title":null}}}},
  {"width":98,"height":101,"view":{"stroke":"#111","strokeWidth":1.6,"strokeDasharray":[98,101,199,0]},"data":{"name":"r3g"},"mark":{"type":"line","color":"#000","strokeWidth":1.4,"clip":true},"encoding":{"x":{"field":"x","type":"quantitative","scale":{"domain":[0,5],"range":[11.3,98],"nice":false,"zero":false},"axis":{"values":[0,1,2,3,4],"offset":-23,"title":null}},"y":{"field":"y","type":"quantitative","scale":{"domain":[0,7],"range":[78,8],"nice":false,"zero":false},"axis":{"values":[0,1,2,3,4,5,6,7],"offset":-11.3,"title":null}}}},

  {"width":101,"height":66,"view":{"stroke":"#111","strokeWidth":1.6,"strokeDasharray":[167,101,66,0]},"data":{"values":[{"hj":"Hj"}]},"mark":{"type":"text","font":"Liberation Serif","fontSize":24,"fontStyle":"italic","align":"center","baseline":"alphabetic"},"encoding":{"x":{"datum":0.485,"type":"quantitative","scale":{"domain":[0,1]},"axis":null},"y":{"datum":0.48,"type":"quantitative","scale":{"domain":[0,1]},"axis":null},"text":{"field":"hj"}}},
  {"width":105,"height":66,"view":{"stroke":"#111","strokeWidth":1.6,"strokeDasharray":[171,105,66,0]},"data":{"values":[{"hj":"0,6153"}]},"mark":{"type":"text","font":"Liberation Serif","fontSize":25,"align":"center","baseline":"alphabetic"},"encoding":{"x":{"datum":0.5,"type":"quantitative","scale":{"domain":[0,1]},"axis":null},"y":{"datum":0.43,"type":"quantitative","scale":{"domain":[0,1]},"axis":null},"text":{"field":"hj"}}},
  {"width":111,"height":66,"view":{"stroke":"#111","strokeWidth":1.6,"strokeDasharray":[177,111,66,0]},"data":{"values":[{"hj":"0,6406"}]},"mark":{"type":"text","font":"Liberation Serif","fontSize":25,"align":"center","baseline":"alphabetic"},"encoding":{"x":{"datum":0.494,"type":"quantitative","scale":{"domain":[0,1]},"axis":null},"y":{"datum":0.43,"type":"quantitative","scale":{"domain":[0,1]},"axis":null},"text":{"field":"hj"}}},
  {"width":113,"height":66,"view":{"stroke":"#111","strokeWidth":1.6,"strokeDasharray":[179,113,66,0]},"data":{"values":[{"hj":"0,7193"}]},"mark":{"type":"text","font":"Liberation Serif","fontSize":25,"align":"center","baseline":"alphabetic"},"encoding":{"x":{"datum":0.5,"type":"quantitative","scale":{"domain":[0,1]},"axis":null},"y":{"datum":0.43,"type":"quantitative","scale":{"domain":[0,1]},"axis":null},"text":{"field":"hj"}}},
  {"width":110,"height":66,"view":{"stroke":"#111","strokeWidth":1.6,"strokeDasharray":[176,110,66,0]},"data":{"values":[{"hj":"0,7476"}]},"mark":{"type":"text","font":"Liberation Serif","fontSize":25,"align":"center","baseline":"alphabetic"},"encoding":{"x":{"datum":0.465,"type":"quantitative","scale":{"domain":[0,1]},"axis":null},"y":{"datum":0.43,"type":"quantitative","scale":{"domain":[0,1]},"axis":null},"text":{"field":"hj"}}},
  {"width":117,"height":66,"view":{"stroke":"#111","strokeWidth":1.6,"strokeDasharray":[183,117,66,0]},"data":{"values":[{"hj":"0,7612"}]},"mark":{"type":"text","font":"Liberation Serif","fontSize":25,"align":"center","baseline":"alphabetic"},"encoding":{"x":{"datum":0.477,"type":"quantitative","scale":{"domain":[0,1]},"axis":null},"y":{"datum":0.43,"type":"quantitative","scale":{"domain":[0,1]},"axis":null},"text":{"field":"hj"}}},
  {"width":114,"height":66,"view":{"stroke":"#111","strokeWidth":1.6,"strokeDasharray":[180,114,66,0]},"data":{"values":[{"hj":"0,8271"}]},"mark":{"type":"text","font":"Liberation Serif","fontSize":25,"align":"center","baseline":"alphabetic"},"encoding":{"x":{"datum":0.465,"type":"quantitative","scale":{"domain":[0,1]},"axis":null},"y":{"datum":0.43,"type":"quantitative","scale":{"domain":[0,1]},"axis":null},"text":{"field":"hj"}}},
  {"width":98,"height":66,"view":{"stroke":"#111","strokeWidth":1.6,"strokeDasharray":[98,164,66,0]},"data":{"values":[{"hj":"0,9919"}]},"mark":{"type":"text","font":"Liberation Serif","fontSize":25,"align":"center","baseline":"alphabetic"},"encoding":{"x":{"datum":0.56,"type":"quantitative","scale":{"domain":[0,1]},"axis":null},"y":{"datum":0.43,"type":"quantitative","scale":{"domain":[0,1]},"axis":null},"text":{"field":"hj"}}}
]
}
